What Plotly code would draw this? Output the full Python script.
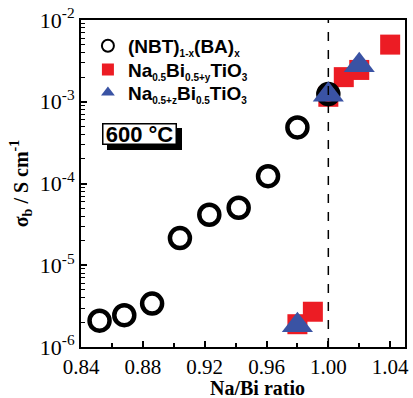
import plotly.graph_objects as go

# Data
nbt_x = [0.852, 0.868, 0.886, 0.904, 0.923, 0.942, 0.961, 0.980, 1.000]
nbt_y = [2.1e-6, 2.45e-6, 3.4e-6, 2.15e-5, 4.15e-5, 5.05e-5, 1.23e-4, 4.85e-4, 1.24e-3]
biy_x = [0.980, 0.990, 1.000, 1.010, 1.020, 1.040]
biy_y = [1.9e-6, 2.7e-6, 1.15e-3, 2.0e-3, 2.45e-3, 5.0e-3]
naz_x = [0.980, 1.000, 1.020]
naz_y = [1.85e-6, 1.22e-3, 2.8e-3]


def s(t):
    return '<sub><span style="font-size:10px">' + t + '</span></sub>'


names = ["(NBT)" + s("1-x") + "(BA)" + s("x"),
         "Na" + s("0.5") + "Bi" + s("0.5+y") + "TiO" + s("3"),
         "Na" + s("0.5+z") + "Bi" + s("0.5") + "TiO" + s("3")]
y_tickvals = [1e-6, 1e-5, 1e-4, 1e-3, 1e-2]
y_ticktext = ["10<sup>-6</sup>", "10<sup>-5</sup>", "10<sup>-4</sup>", "10<sup>-3</sup>", "10<sup>-2</sup>"]
y_minor = [m * 10.0 ** e for e in range(-6, -2) for m in range(2, 10)]
x_tickvals = [0.84, 0.88, 0.92, 0.96, 1.00, 1.04]
x_ticktext = ["0.84", "0.88", "0.92", "0.96", "1.00", "1.04"]
x_minor = [0.86, 0.90, 0.94, 0.98, 1.02]

RED = "#EC1C24"
BLUE = "#3A53A4"
serif = "Liberation Serif, Times New Roman, serif"
sans = "Liberation Sans, Arial, sans-serif"

fig = go.Figure()
fig.add_trace(go.Scatter(x=biy_x, y=biy_y, mode="markers", name=names[1], legend="legend2",
                         marker=dict(symbol="square", size=20, color=RED, line=dict(width=0))))
fig.add_trace(go.Scatter(x=nbt_x, y=nbt_y, mode="markers", name=names[0], legend="legend",
                         marker=dict(symbol="circle-open", size=20, color="black", line=dict(width=4.5, color="black"))))
fig.add_trace(go.Scatter(x=naz_x, y=naz_y, mode="markers", name=names[2], legend="legend3",
                         marker=dict(symbol="triangle-up", size=27, color=BLUE, line=dict(width=0))))

fig.add_vline(x=1.0, line=dict(color="black", width=1.5, dash="dash"))

# 600 °C box with shadow
box = dict(xref="paper", yref="paper", x=(140.5 - 81) / 328, y=1 - (132.5 - 18) / 329,
           xanchor="center", yanchor="middle", showarrow=False,
           text="<b>600 °C</b>", font=dict(family=sans, size=22, color="black"),
           width=70, height=17, borderwidth=1.5, borderpad=1, bordercolor="black")
fig.add_annotation(**box, bgcolor="black", xshift=5, yshift=-5)
fig.add_annotation(**box, bgcolor="white")

# x-axis title
fig.add_annotation(xref="paper", yref="paper", x=(260 - 81) / 328, y=-(388 - 347) / 329,
                   xanchor="center", yanchor="middle", showarrow=False, height=20,
                   text="<b>Na/Bi ratio</b>", font=dict(family=serif, size=20, color="black"))

leg_font = dict(family=sans, size=19, color="black", weight="bold")


def leg(yc):
    return dict(x=(88 - 81) / 328, y=1 - (yc - 18) / 329, xanchor="left", yanchor="middle",
                bgcolor="rgba(0,0,0,0)", font=leg_font, itemsizing="constant", borderwidth=0)


fig.update_layout(
    width=413, height=398,
    margin=dict(l=81, r=4, t=18, b=51),
    plot_bgcolor="white", paper_bgcolor="white",
    showlegend=True,
    legend=leg(44), legend2=leg(68), legend3=leg(91),
    xaxis=dict(range=[0.84, 1.0496], tickvals=x_tickvals, ticktext=x_ticktext,
               ticks="inside", ticklen=6, tickwidth=1.5, tickcolor="black",
               showline=True, linecolor="black", linewidth=2, mirror=True,
               showgrid=False, zeroline=False,
               minor=dict(tickvals=x_minor, ticks="inside", ticklen=4,
                          tickwidth=1.5, tickcolor="black", showgrid=False),
               tickfont=dict(family=serif, size=21, color="black")),
    yaxis=dict(type="log", range=[-6, -2], tickvals=y_tickvals, ticktext=y_ticktext,
               ticks="inside", ticklen=6, tickwidth=1.5, tickcolor="black",
               showline=True, linecolor="black", linewidth=2, mirror=True,
               showgrid=False, zeroline=False,
               minor=dict(tickvals=y_minor, ticks="inside", ticklen=4, tickwidth=1.2,
                          tickcolor="black", showgrid=False),
               tickfont=dict(family=serif, size=22, color="black"),
               title=dict(text="<b>σ<sub>b</sub> / S cm<sup>-1</sup></b>",
                          font=dict(family=serif, size=20, color="black"), standoff=6)),
)

fig.write_html("out.html")
